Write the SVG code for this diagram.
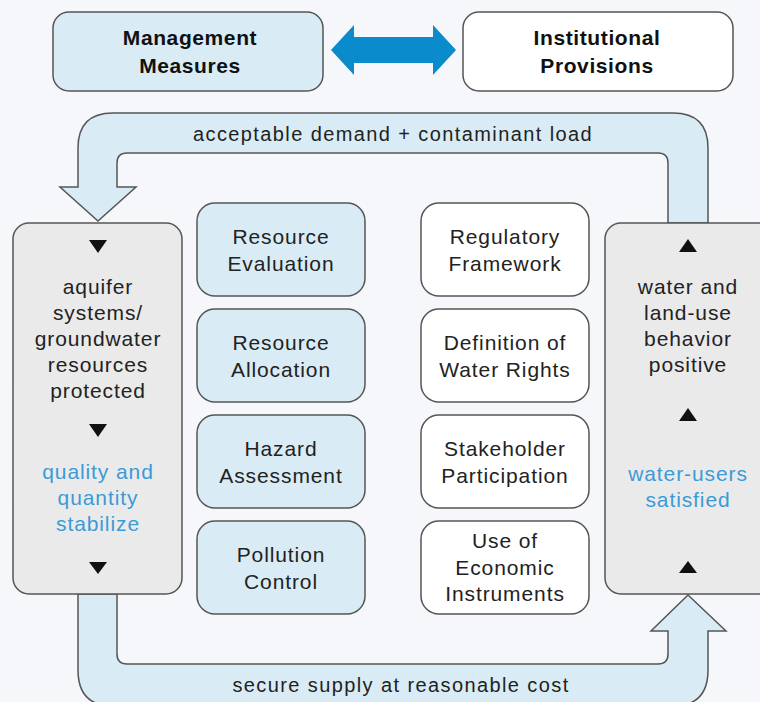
<svg xmlns="http://www.w3.org/2000/svg" width="760" height="702" viewBox="0 0 760 702">
<defs>
<style>
.bg{fill:#f6f7fb}
.t{font-family:"Liberation Sans",Arial,sans-serif;font-size:21px;fill:#222;text-anchor:middle;letter-spacing:0.9px}
.b{font-family:"Liberation Sans",Arial,sans-serif;font-size:21px;font-weight:bold;fill:#111;text-anchor:middle;letter-spacing:0.6px}
.blue{fill:#3a9bd8}
.mbox{fill:#d9ecf6;stroke:#555;stroke-width:1.5}
.wbox{fill:#ffffff;stroke:#555;stroke-width:1.5}
.gbox{fill:#eaeaea;stroke:#555;stroke-width:1.5}
.flow{fill:#d9ecf6;stroke:#555;stroke-width:1.5;stroke-linejoin:miter}
.tri{fill:#111}
</style>
</defs>
<rect class="bg" x="0" y="0" width="760" height="702"/>

<g id="connectors">
  <path id="top-loop" class="flow" d="M78,187 L78,148 Q78,113 113,113 L673,113 Q708,113 708,148 L708,223 L668,223 L668,163 Q668,153 658,153 L127,153 Q117,153 117,163 L117,187 L136,187 L98,221 L60,187 Z"/>
  <path id="bottom-loop" class="flow" d="M78,594 L78,670 Q78,706 113,706 L673,706 Q708,706 708,670 L708,631 L726,631 L688,595 L651,631 L668,631 L668,654 Q668,664 658,664 L127,664 Q117,664 117,654 L117,594 Z"/>
  <polygon id="double-arrow" fill="#0a8bcc" points="331,50 354,25 354,37 433,37 433,25 456,50 433,75 433,63 354,63 354,75"/>
  <text class="t" x="393" y="141" style="font-size:20px;letter-spacing:1.4px">acceptable demand + contaminant load</text>
  <text class="t" x="401" y="692" style="font-size:20px;letter-spacing:1.4px">secure supply at reasonable cost</text>
</g>

<g id="management">
  <rect class="mbox" x="53" y="12" width="270" height="79" rx="16"/>
  <text class="b" x="190" y="45">Management</text>
  <text class="b" x="190" y="73">Measures</text>
</g>
<g id="institutional">
  <rect class="wbox" x="463" y="12" width="270" height="79" rx="16" fill="#fbfbfd"/>
  <text class="b" x="597" y="45">Institutional</text>
  <text class="b" x="597" y="73">Provisions</text>
</g>

<g id="aquifer">
  <rect class="gbox" x="13" y="223" width="169" height="371" rx="16"/>
  <polygon class="tri" points="89,240 107,240 98,253"/>
  <polygon class="tri" points="89,424 107,424 98,437"/>
  <polygon class="tri" points="89,562 107,562 98,574"/>
  <text class="t" x="98" y="294">aquifer</text>
  <text class="t" x="98" y="320">systems/</text>
  <text class="t" x="98" y="346">groundwater</text>
  <text class="t" x="98" y="372">resources</text>
  <text class="t" x="98" y="398">protected</text>
  <text class="t blue" x="98" y="479">quality and</text>
  <text class="t blue" x="98" y="505">quantity</text>
  <text class="t blue" x="98" y="531">stabilize</text>
</g>

<g id="behavior">
  <rect class="gbox" x="605" y="223" width="169" height="371" rx="16"/>
  <polygon class="tri" points="679,252 697,252 688,239"/>
  <polygon class="tri" points="679,421 697,421 688,408"/>
  <polygon class="tri" points="679,573 697,573 688,561"/>
  <text class="t" x="688" y="294">water and</text>
  <text class="t" x="688" y="320">land-use</text>
  <text class="t" x="688" y="346">behavior</text>
  <text class="t" x="688" y="372">positive</text>
  <text class="t blue" x="688" y="481">water-users</text>
  <text class="t blue" x="688" y="507">satisfied</text>
</g>

<g id="resource-evaluation">
  <rect class="mbox" x="197" y="203" width="168" height="93" rx="18"/>
  <text class="t" x="281" y="244">Resource</text>
  <text class="t" x="281" y="271">Evaluation</text>
</g>
<g id="resource-allocation">
  <rect class="mbox" x="197" y="309" width="168" height="93" rx="18"/>
  <text class="t" x="281" y="350">Resource</text>
  <text class="t" x="281" y="377">Allocation</text>
</g>
<g id="hazard-assessment">
  <rect class="mbox" x="197" y="415" width="168" height="93" rx="18"/>
  <text class="t" x="281" y="456">Hazard</text>
  <text class="t" x="281" y="483">Assessment</text>
</g>
<g id="pollution-control">
  <rect class="mbox" x="197" y="521" width="168" height="93" rx="18"/>
  <text class="t" x="281" y="562">Pollution</text>
  <text class="t" x="281" y="589">Control</text>
</g>

<g id="regulatory-framework">
  <rect class="wbox" x="421" y="203" width="168" height="93" rx="18"/>
  <text class="t" x="505" y="244">Regulatory</text>
  <text class="t" x="505" y="271">Framework</text>
</g>
<g id="water-rights">
  <rect class="wbox" x="421" y="309" width="168" height="93" rx="18"/>
  <text class="t" x="505" y="350">Definition of</text>
  <text class="t" x="505" y="377">Water Rights</text>
</g>
<g id="stakeholder">
  <rect class="wbox" x="421" y="415" width="168" height="93" rx="18"/>
  <text class="t" x="505" y="456">Stakeholder</text>
  <text class="t" x="505" y="483">Participation</text>
</g>
<g id="economic">
  <rect class="wbox" x="421" y="521" width="168" height="93" rx="18"/>
  <text class="t" x="505" y="548">Use of</text>
  <text class="t" x="505" y="575">Economic</text>
  <text class="t" x="505" y="601">Instruments</text>
</g>
</svg>
